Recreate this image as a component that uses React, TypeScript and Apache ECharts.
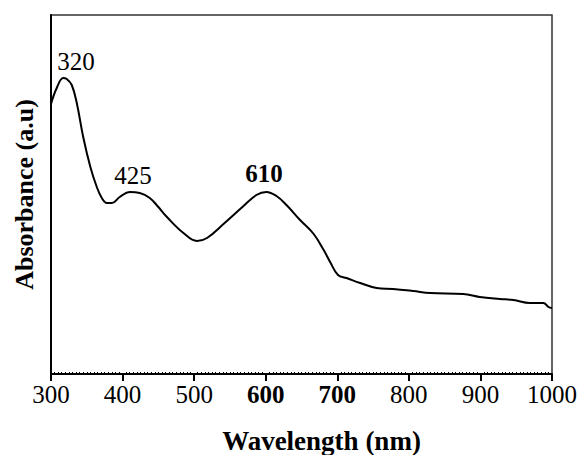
import React, { useEffect, useRef } from "react";
import * as echarts from "echarts";

const wavelengths = [300, 308, 317, 322, 329, 336, 345, 355, 364, 371, 378, 385, 396, 410, 424, 438, 450, 462, 485, 504, 518, 541, 569, 587, 601, 615, 629, 648, 667, 681, 690, 701, 713, 732, 755, 778, 806, 830, 876, 899, 927, 946, 969, 988, 995, 1000];
const absorbance = [270, 286, 296, 295, 289, 271, 237, 207, 187, 176, 171, 171, 177, 182, 181, 176, 167, 157, 141, 133, 136, 150, 168, 179, 182, 178, 169, 154, 140, 124, 112, 99, 96, 91, 86, 85, 83, 81, 80, 77, 75, 74, 71, 71, 67, 66];
const xTicks = [300, 400, 500, 600, 700, 800, 900, 1000];
const boldTicks = [600, 700];
const peakLabels = ["320", "425", "610"];

const FONT = "Liberation Serif";

export default function App() {
  const ref = useRef<HTMLDivElement>(null);
  useEffect(() => {
    if (!ref.current) return;
    const chart = echarts.init(ref.current, null, { renderer: "svg" });
    const data = wavelengths.map((w, i) => [w, absorbance[i]]);
    chart.setOption({
      animation: false,
      backgroundColor: "#fff",
      grid: {
        left: 51,
        right: 31,
        top: 15,
        bottom: 81,
        show: true,
        borderColor: "#333",
        borderWidth: 1.5,
        containLabel: false,
        outerBoundsMode: "none",
      },
      xAxis: [
        {
          type: "value",
          min: 300,
          max: 1000,
          interval: 100,
          splitLine: { show: false },
          axisLine: { lineStyle: { color: "#000", width: 2 } },
          axisTick: { show: true, inside: false, length: 7, lineStyle: { color: "#000", width: 2 } },
          axisLabel: {
            margin: 8,
            fontFamily: FONT,
            fontSize: 25,
            color: "#000",
            formatter: (v: number) =>
              xTicks.includes(v) ? (boldTicks.includes(v) ? `{b|${v}}` : `${v}`) : "",
            rich: { b: { fontFamily: FONT, fontSize: 25, fontWeight: "bold", color: "#000" } },
          },
          name: "Wavelength (nm)",
          nameLocation: "middle",
          nameGap: 53,
          nameTextStyle: {
            fontFamily: FONT,
            fontSize: 27,
            fontWeight: "bold",
            color: "#000",
            padding: [0, 0, 0, 40],
          },
        },
        {
          type: "value",
          min: 300,
          max: 1000,
          interval: 100,
          position: "bottom",
          splitLine: { show: false },
          axisLine: { show: false },
          axisLabel: { show: false },
          axisTick: { show: false, inside: true },
          minorTick: { show: true, splitNumber: 20, length: 2, lineStyle: { color: "#000", width: 1 } },
        },
      ],
      yAxis: {
        type: "value",
        min: 0,
        max: 359,
        splitLine: { show: false },
        axisLine: { lineStyle: { color: "#000", width: 2 } },
        axisTick: { show: false },
        axisLabel: { show: false },
        name: "Absorbance (a.u)",
        nameLocation: "middle",
        nameRotate: 90,
        nameGap: 14,
        nameTextStyle: { fontFamily: FONT, fontSize: 26, fontWeight: "bold", color: "#000" },
      },
      series: [
        {
          type: "line",
          data,
          smooth: 0.4,
          showSymbol: false,
          lineStyle: { color: "#000", width: 2 },
        },
      ],
      graphic: [
        { type: "text", x: 76, y: 61, style: { text: peakLabels[0], fontFamily: FONT, fontSize: 25, fill: "#000", align: "center", verticalAlign: "middle" } },
        { type: "text", x: 133, y: 175, style: { text: peakLabels[1], fontFamily: FONT, fontSize: 25, fill: "#000", align: "center", verticalAlign: "middle" } },
        { type: "text", x: 264, y: 173, style: { text: peakLabels[2], fontFamily: FONT, fontSize: 25, fontWeight: "bold", fill: "#000", align: "center", verticalAlign: "middle" } },
      ],
    });
    return () => chart.dispose();
  }, []);
  return <div ref={ref} style={{ width: 583, height: 455, position: "absolute", left: 0, top: 0 }} />;
}
